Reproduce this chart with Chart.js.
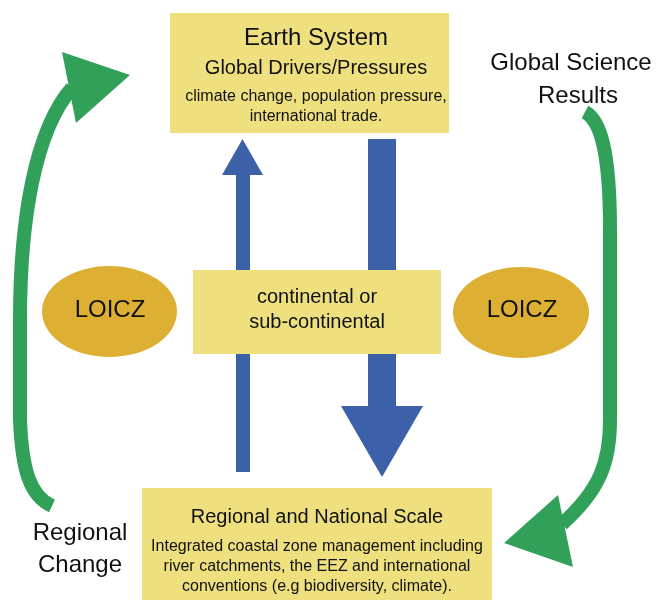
<!DOCTYPE html>
<html>
<head>
<meta charset="utf-8">
<script src="https://cdn.jsdelivr.net/npm/chart.js@4.4.1/dist/chart.umd.min.js"></script>
<style>
html,body{margin:0;padding:0;background:#fff;}
#wrap{width:656px;height:600px;}
</style>
</head>
<body>
<div id="wrap"><canvas id="c" width="656" height="600"></canvas></div>
<script>
// ---- Diagram content (text) ----
const topBoxTitle = ["Earth System"];
const topBoxSubtitle = ["Global Drivers/Pressures"];
const topBoxLines = ["climate change, population pressure,", "international trade."];
const middleBoxLines = ["continental or", "sub-continental"];
const ellipseLabels = ["LOICZ", "LOICZ"];
const bottomBoxTitle = ["Regional and National Scale"];
const bottomBoxLines = ["Integrated coastal zone management including", "river catchments, the EEZ and international", "conventions (e.g biodiversity, climate)."];
const leftSideLabel = ["Regional", "Change"];
const rightSideLabel = ["Global Science", "Results"];

// ---- Layout (diagram coordinates on a 656 x 600 value grid) ----
const COL = {yellow:"#EEE07F", blue:"#3D61A9", green:"#31A15A", gold:"#DDAF33", text:"#111111"};
const FONT = "'Liberation Sans', Arial, Helvetica, sans-serif";
const layout = {
  boxes: [
    {x0:170, y0:13, x1:449, y1:133},
    {x0:142, y0:488, x1:492, y1:600},
  ],
  midBox: {x0:193, y0:270, x1:441, y1:354},
  ellipses: [{cx:109.5, cy:311.5, rx:67.5, ry:45.5}, {cx:521, cy:312.5, rx:68, ry:45.5}],
  upArrow: {sx0:236, sx1:250, top:175, bottom:472, hx0:222, hx1:263, tip:139},
  downArrow: {sx0:368, sx1:396, top:139, bottom:406, hx0:341, hx1:423, tip:477},
  greenLeft: {path:[["M",52,506],["C",30,496,22,470,20,420],["L",20,320],["C",20,220,35,130,72,88]], head:[[62,52],[130,75],[76,123]]},
  greenRight: {path:[["M",585,112],["C",600,120,610,150,610,230],["L",610,420],["C",610,462,600,490,562,524]], head:[[558,495],[504,543],[573,567]]},
};

const diagramPlugin = {
  id: 'diagram',
  afterDatasetsDraw(chart) {
    const ctx = chart.ctx;
    const xs = chart.scales.x, ys = chart.scales.y;
    const X = v => xs.getPixelForValue(v);
    const Y = v => ys.getPixelForValue(v);
    ctx.save();

    const rect = (b, c) => { ctx.fillStyle = c; ctx.fillRect(X(b.x0), Y(b.y0), X(b.x1) - X(b.x0), Y(b.y1) - Y(b.y0)); };
    const tri = (pts, c) => { ctx.fillStyle = c; ctx.beginPath(); ctx.moveTo(X(pts[0][0]), Y(pts[0][1])); ctx.lineTo(X(pts[1][0]), Y(pts[1][1])); ctx.lineTo(X(pts[2][0]), Y(pts[2][1])); ctx.closePath(); ctx.fill(); };
    const txt = (s, x, y, size) => { ctx.fillStyle = COL.text; ctx.font = size + "px " + FONT; ctx.textAlign = "center"; ctx.textBaseline = "alphabetic"; ctx.fillText(s, X(x), Y(y)); };

    // blue arrows
    const u = layout.upArrow;
    rect({x0:u.sx0, y0:u.top, x1:u.sx1, y1:u.bottom}, COL.blue);
    tri([[u.hx0,u.top],[u.hx1,u.top],[(u.hx0+u.hx1)/2,u.tip]], COL.blue);
    const d = layout.downArrow;
    rect({x0:d.sx0, y0:d.top, x1:d.sx1, y1:d.bottom}, COL.blue);
    tri([[d.hx0,d.bottom],[d.hx1,d.bottom],[(d.sx0+d.sx1)/2,d.tip]], COL.blue);

    // boxes
    layout.boxes.forEach(b => rect(b, COL.yellow));
    rect(layout.midBox, COL.yellow);

    // ellipses
    layout.ellipses.forEach(e => {
      ctx.fillStyle = COL.gold; ctx.beginPath();
      ctx.ellipse(X(e.cx), Y(e.cy), Math.abs(X(e.cx+e.rx)-X(e.cx)), Math.abs(Y(e.cy+e.ry)-Y(e.cy)), 0, 0, Math.PI*2);
      ctx.fill();
    });

    // green curved arrows
    [layout.greenLeft, layout.greenRight].forEach(g => {
      ctx.strokeStyle = COL.green; ctx.lineWidth = 14; ctx.lineCap = "butt"; ctx.lineJoin = "round";
      ctx.beginPath();
      g.path.forEach(p => {
        if (p[0] === "M") ctx.moveTo(X(p[1]), Y(p[2]));
        else if (p[0] === "L") ctx.lineTo(X(p[1]), Y(p[2]));
        else ctx.bezierCurveTo(X(p[1]), Y(p[2]), X(p[3]), Y(p[4]), X(p[5]), Y(p[6]));
      });
      ctx.stroke();
      tri(g.head, COL.green);
    });

    // texts
    txt(topBoxTitle[0], 316, 45, 24);
    txt(topBoxSubtitle[0], 316, 74, 20);
    txt(topBoxLines[0], 316, 101, 16);
    txt(topBoxLines[1], 316, 121, 16);
    txt(middleBoxLines[0], 317, 303, 20);
    txt(middleBoxLines[1], 317, 328, 20);
    txt(ellipseLabels[0], 110, 317, 24);
    txt(ellipseLabels[1], 522, 317, 24);
    txt(bottomBoxTitle[0], 317, 523, 20);
    bottomBoxLines.forEach((s, i) => txt(s, 317, 551 + i*20, 16));
    txt(leftSideLabel[0], 80, 540, 24);
    txt(leftSideLabel[1], 80, 572, 24);
    txt(rightSideLabel[0], 571, 70, 24);
    txt(rightSideLabel[1], 578, 103, 24);

    ctx.restore();
  }
};

new Chart(document.getElementById('c'), {
  type: 'scatter',
  data: { datasets: [{ data: [], pointRadius: 0 }] },
  options: {
    responsive: false,
    animation: false,
    layout: { padding: 0 },
    plugins: { legend: { display: false }, tooltip: { enabled: false } },
    scales: {
      x: { type: 'linear', min: 0, max: 656, display: false },
      y: { type: 'linear', min: 0, max: 600, reverse: true, display: false }
    }
  },
  plugins: [diagramPlugin]
});
</script>
</body>
</html>
